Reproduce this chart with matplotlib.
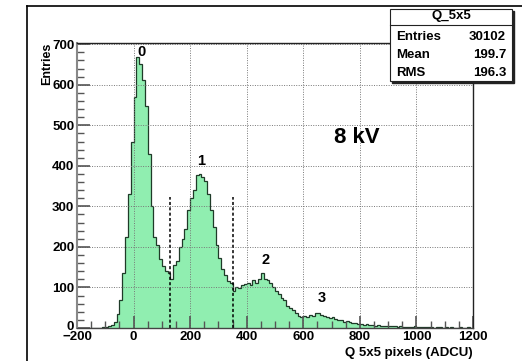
import numpy as np
import matplotlib
matplotlib.use("Agg")
import matplotlib.pyplot as plt
import matplotlib.transforms as mtransforms
from matplotlib.lines import Line2D
from matplotlib.patches import Rectangle

plt.rcParams['font.family'] = ['Liberation Sans', 'DejaVu Sans']
plt.rcParams['font.weight'] = 'bold'

# histogram Q_5x5, 10 ADCU bins from -200 to 1200
bin_lo = -200
bin_w = 10
counts = [
    # -200 .. -110
    0, 0, 0, 0, 0, 0, 0, 1, 0, 2,
    # -100 .. -10
    2, 4, 8, 16, 35, 70, 135, 225, 330, 460,
    # 0 .. 90
    570, 668, 650, 612, 548, 430, 300, 225, 205, 170,
    # 100 .. 190
    152, 140, 136, 120, 155, 165, 200, 220, 245, 290,
    # 200 .. 290
    320, 340, 378, 380, 372, 362, 330, 290, 250, 205,
    # 300 .. 390
    172, 145, 130, 115, 112, 92, 100, 98, 105, 108,
    # 400 .. 490
    112, 105, 118, 110, 122, 135, 120, 118, 112, 100,
    # 500 .. 590
    92, 85, 75, 68, 55, 50, 44, 38, 30, 28,
    # 600 .. 690
    30, 27, 32, 30, 36, 38, 33, 30, 28, 24,
    # 700 .. 790
    26, 22, 20, 19, 15, 17, 14, 13, 12, 11,
    # 800 .. 890
    10, 8, 9, 7, 8, 6, 7, 5, 6, 5,
    # 900 .. 990
    4, 5, 4, 3, 4, 3, 3, 2, 3, 4,
    # 1000 .. 1090
    2, 3, 2, 2, 3, 2, 1, 2, 2, 1,
    # 1100 .. 1190
    2, 1, 2, 1, 1, 2, 1, 1, 2, 1,
]
cuts = [130, 350]
cut_top = 322
peak_labels = ['0', '1', '2', '3']
peak_x = [28, 238, 467, 667]
peak_y = [680, 413, 167, 73]
stats_names = ['Entries', 'Mean', 'RMS']
stats_vals = ['30102', '199.7', '196.3']

edges = bin_lo + bin_w * np.arange(len(counts) + 1)

fig = plt.figure(figsize=(5.22, 3.61), dpi=100)
ax = fig.add_axes([77/522, 33/361, 396/522, 285/361])

ax.stairs(counts, edges, fill=True, color='#90eeb0', lw=0)
ax.stairs(counts, edges, color='#1f3a28', lw=0.9)

ax.set_xlim(-200, 1200)
ax.set_ylim(0, 703)
ax.set_xticks(np.arange(-200, 1201, 200))
ax.set_yticks(np.arange(0, 701, 100))
ax.set_xticks(np.arange(-200, 1201, 50), minor=True)
ax.set_yticks(np.arange(0, 701, 20), minor=True)
ax.tick_params(which='both', direction='in', top=False, right=False,
               color='#555555', labelsize=9.5)
ax.tick_params(which='major', length=9, width=1.2)
ax.tick_params(which='minor', length=5, width=1.0)
ax.tick_params(axis='x', pad=2)
ax.tick_params(axis='y', pad=2)
ax.grid(True, which='major', ls=(0, (1, 1.5)), color='#777777', lw=0.7)
for s in ax.spines.values():
    s.set_linewidth(1.0)
    s.set_color('#222222')
ax.spines['left'].set_color('#888888')
ax.spines['left'].set_linewidth(1.5)
ax.spines['bottom'].set_color('#444444')

# lift the y "0" a little so it only just touches "-200"
fig.canvas.draw()
ylab0 = ax.get_yticklabels()[0]
ylab0.set_transform(ylab0.get_transform() +
                    mtransforms.ScaledTranslation(0, 3/100, fig.dpi_scale_trans))

for c in cuts:
    ax.plot([c, c], [0, cut_top], color='black', ls=(0, (2, 1.5)), lw=1.1)

for lab, px, py in zip(peak_labels, peak_x, peak_y):
    ax.text(px, py, lab, ha='center', va='center', fontsize=10.5, fontweight='bold')
ax.text(789, 470, '8 kV', ha='center', va='center', fontsize=16, fontweight='bold')

ax.set_ylabel('Entries', fontsize=9, fontweight='bold')
ax.yaxis.set_label_coords(-0.06, 1.0)
ax.yaxis.label.set_ha('right')
ax.set_xlabel('Q 5x5 pixels (ADCU)', fontsize=9.5, fontweight='bold')
ax.xaxis.set_label_coords(1.0, -0.065)
ax.xaxis.label.set_ha('right')

# canvas frame lines
fig.add_artist(Line2D([27/522, 27/522], [0, 1 - 6/361], transform=fig.transFigure,
                      color='black', lw=1.2))
fig.add_artist(Line2D([27/522, 1], [1 - 6/361, 1 - 6/361], transform=fig.transFigure,
                      color='black', lw=1.2))

# stats box
bx0, bx1 = 390/522, 512/522
by0, by1 = 1 - 81/361, 1 - 9/361
fig.add_artist(Rectangle((bx0 + 2/522, by0 - 2/361), bx1 - bx0, by1 - by0,
                         transform=fig.transFigure, color='#222222', zorder=5))
fig.add_artist(Rectangle((bx0, by0), bx1 - bx0, by1 - by0, transform=fig.transFigure,
                         facecolor='white', edgecolor='#222222', lw=0.8, zorder=6))
fig.add_artist(Line2D([bx0, bx1], [1 - 25/361, 1 - 25/361], transform=fig.transFigure,
                      color='#222222', lw=0.8, zorder=7))
fig.text(451/522, 1 - 16/361, 'Q_5x5', ha='center', va='center', fontsize=9.5,
         fontweight='bold', zorder=8)
for i, (n, v) in enumerate(zip(stats_names, stats_vals)):
    yy = 1 - (36.7 + 18 * i) / 361
    fig.text(396/522, yy, n, ha='left', va='center', fontsize=9.5, fontweight='bold', zorder=8)
    fig.text(506/522, yy, v, ha='right', va='center', fontsize=9.5, fontweight='bold', zorder=8)

fig.savefig('out.png', dpi=100)
